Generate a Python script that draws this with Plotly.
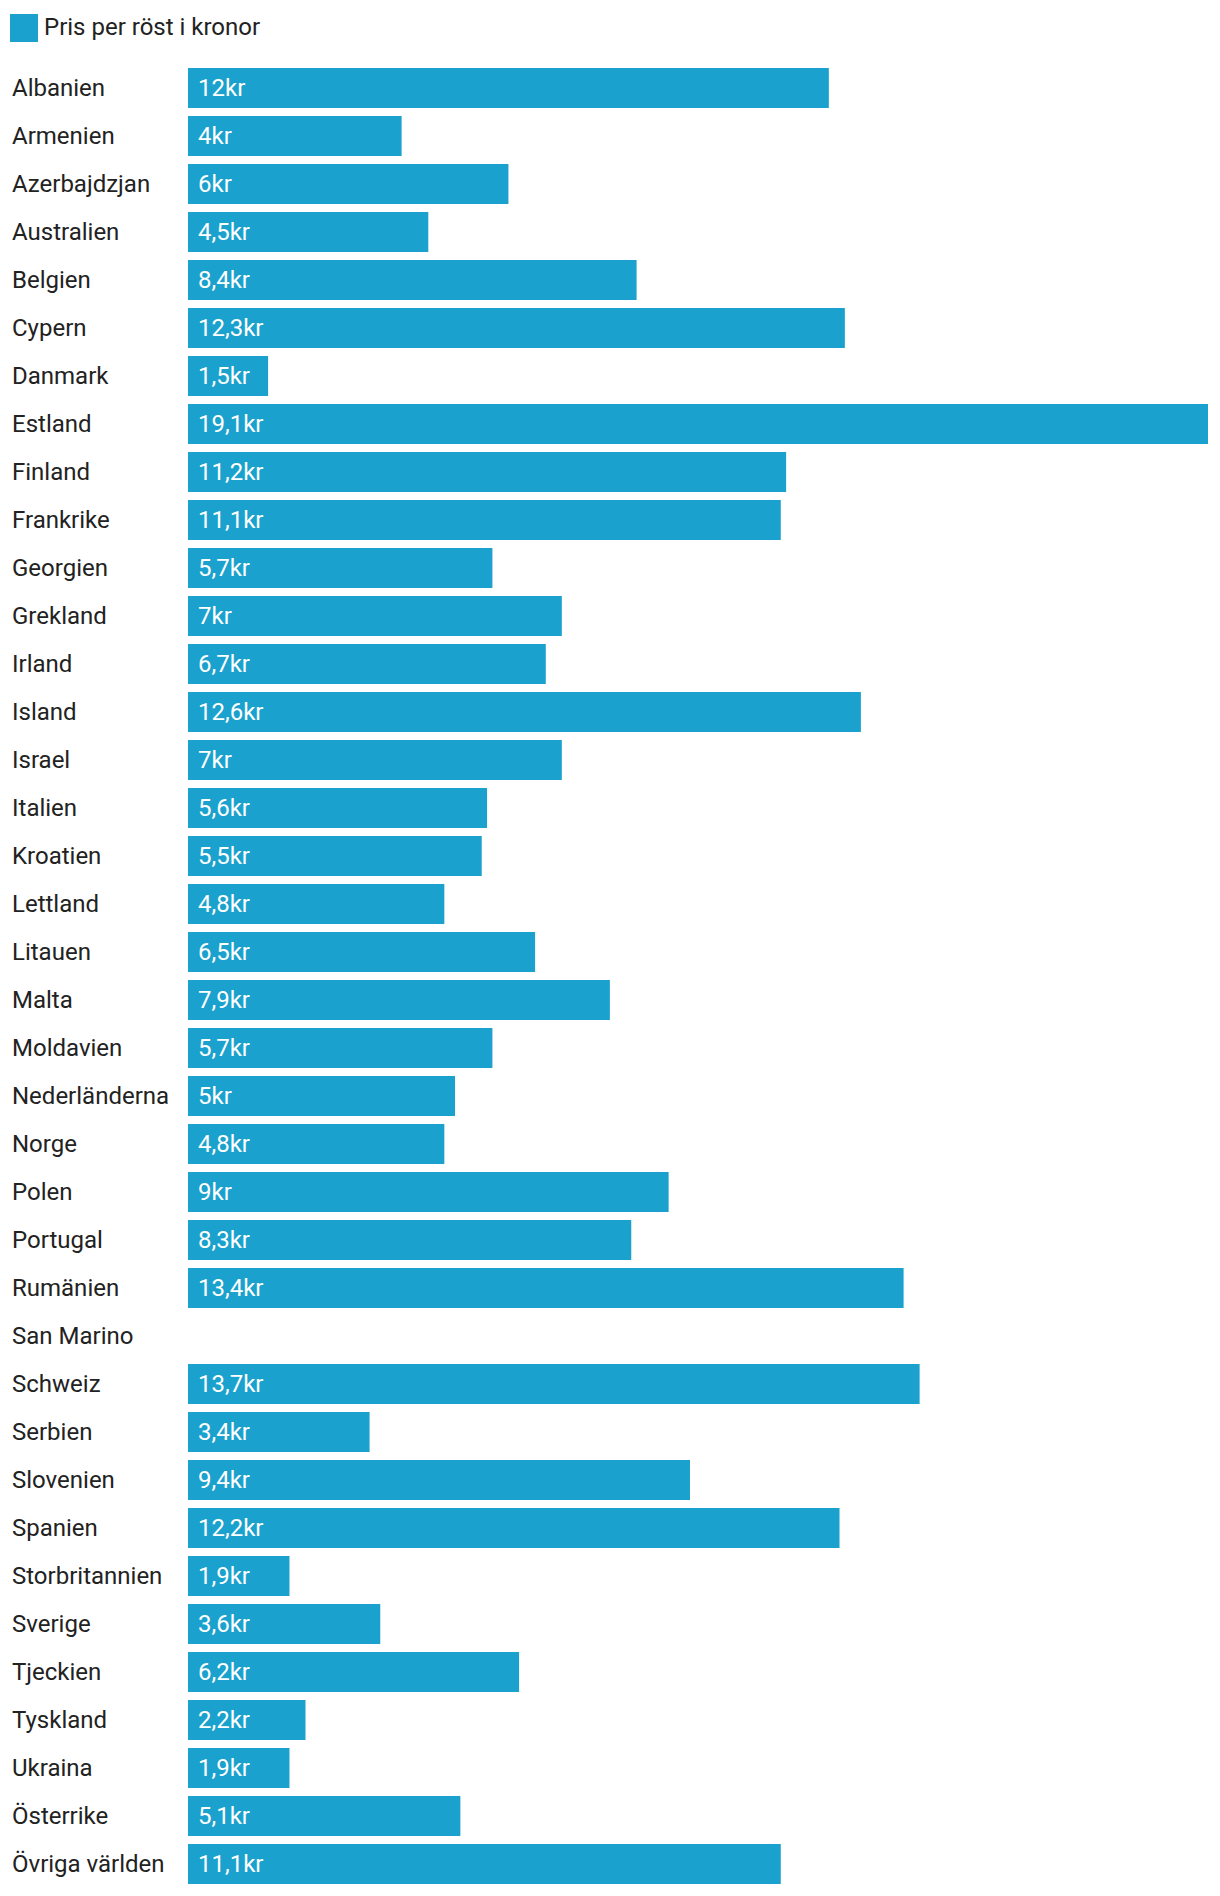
import plotly.graph_objects as go

countries = ["Albanien", "Armenien", "Azerbajdzjan", "Australien", "Belgien", "Cypern",
             "Danmark", "Estland", "Finland", "Frankrike", "Georgien", "Grekland", "Irland",
             "Island", "Israel", "Italien", "Kroatien", "Lettland", "Litauen", "Malta",
             "Moldavien", "Nederländerna", "Norge", "Polen", "Portugal", "Rumänien",
             "San Marino", "Schweiz", "Serbien", "Slovenien", "Spanien", "Storbritannien",
             "Sverige", "Tjeckien", "Tyskland", "Ukraina", "Österrike", "Övriga världen"]
prices = [12, 4, 6, 4.5, 8.4, 12.3, 1.5, 19.1, 11.2, 11.1, 5.7, 7, 6.7, 12.6, 7, 5.6,
          5.5, 4.8, 6.5, 7.9, 5.7, 5, 4.8, 9, 8.3, 13.4, None, 13.7, 3.4, 9.4, 12.2,
          1.9, 3.6, 6.2, 2.2, 1.9, 5.1, 11.1]
series_name = "Pris per röst i kronor"

BAR = "#1aa1cd"
TXT = "#222222"
FONT = "Roboto"
FS = 24

def fmt(v):
    return f"{v:g}".replace(".", ",") + "kr"

fig = go.Figure()
fig.add_trace(go.Bar(
    x=prices, y=countries, orientation="h",
    marker=dict(color=BAR, line=dict(width=0)),
    name=series_name, showlegend=False, hoverinfo="x+y",
))

annotations = []
for c, v in zip(countries, prices):
    annotations.append(dict(
        xref="paper", yref="y", x=0, y=c, xanchor="left", yanchor="middle",
        xshift=-178, text=c, showarrow=False,
        font=dict(family=FONT, size=FS, color=TXT),
    ))
    if v is not None:
        annotations.append(dict(
            xref="x", yref="y", x=0, y=c, xanchor="left", yanchor="middle",
            xshift=8, text=fmt(v), showarrow=False,
            font=dict(family=FONT, size=FS, color="white"),
        ))

# legend
annotations.append(dict(
    xref="paper", yref="paper", x=0, y=1, xanchor="left", yanchor="middle",
    xshift=-146, yshift=37, text=series_name, showarrow=False,
    font=dict(family=FONT, size=FS, color=TXT),
))

fig.update_layout(
    width=1220, height=1896,
    margin=dict(l=188, r=12, t=64, b=8, pad=0),
    paper_bgcolor="white", plot_bgcolor="white",
    bargap=8 / 48,
    font=dict(family=FONT, size=FS, color=TXT),
    xaxis=dict(range=[0, 19.1], showgrid=False, zeroline=False, showticklabels=False,
               showline=False, ticks="", fixedrange=True),
    yaxis=dict(type="category", autorange="reversed", showgrid=False, zeroline=False,
               showticklabels=False, showline=False, ticks="", fixedrange=True),
    annotations=annotations,
    shapes=[dict(
        type="rect", xref="paper", yref="paper", xsizemode="pixel", ysizemode="pixel",
        xanchor=0, yanchor=1, x0=-178, x1=-150, y0=22, y1=50,
        fillcolor=BAR, line=dict(width=0),
    )],
)

fig.write_html("out.html")
